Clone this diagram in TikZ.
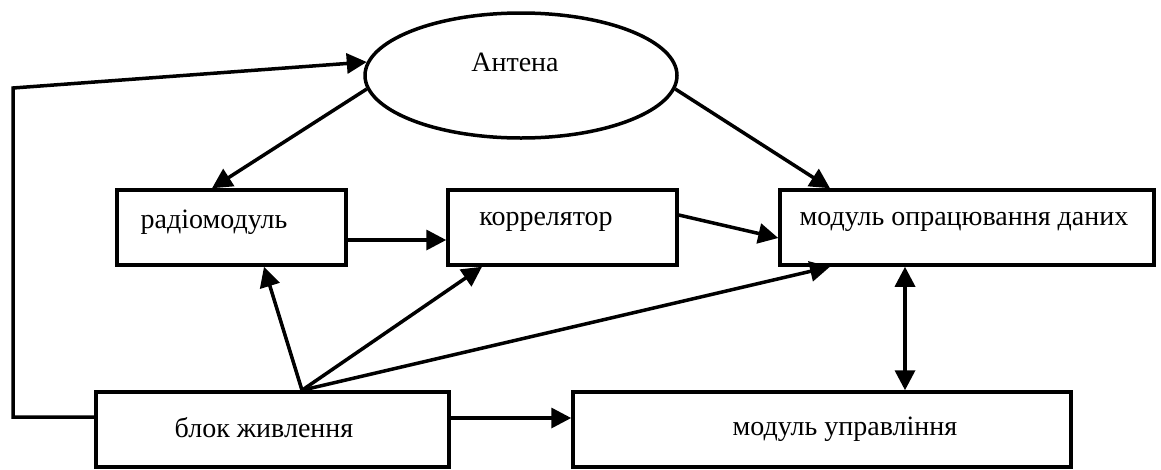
\documentclass[tikz,border=0pt]{standalone}
\usepackage{fontspec}
\setmainfont{Liberation Serif}
\usetikzlibrary{arrows.meta,shapes.geometric}
\begin{document}
\begin{tikzpicture}[x=1pt,y=-1pt,
  line width=3.5pt,
  box/.style={draw,rectangle,inner sep=0pt,minimum height=75pt},
  txt/.style={font=\fontsize{28}{32}\selectfont,inner sep=0pt},
  arr/.style={-{Triangle[length=20pt,width=20pt]}},
  darr/.style={{Triangle[length=20pt,width=20pt]}-{Triangle[length=20pt,width=20pt]}}]
\useasboundingbox (0,0) rectangle (1161,469);
\node[draw,ellipse,inner sep=0pt,minimum width=312pt,minimum height=125pt] (ant) at (521,75.5) {};
\node[txt] (antt) at (515,62) {Антена};
\node[box,minimum width=229pt,label={[txt,xshift=-17.5pt,yshift=5.5pt]center:радіомодуль}] (rad) at (231.5,227.5) {};
\node[box,minimum width=229pt,label={[txt,xshift=-16.5pt,yshift=5.5pt]center:коррелятор}] (kor) at (562.5,227.5) {};
\node[box,minimum width=374pt,label={[txt,xshift=-3pt,yshift=5.5pt]center:модуль опрацювання даних}] (mod) at (967,227.5) {};
\node[box,minimum width=353pt,label={[txt,xshift=-8.5pt,yshift=1.5pt]center:блок живлення}] (blk) at (272.5,429.5) {};
\node[box,minimum width=498pt,label={[txt,xshift=23pt,yshift=0pt]center:модуль управління}] (upr) at (822,429.5) {};
\coordinate (c0) at (13,417);
\coordinate (c1) at (13,88);
% loop from power block to antenna
\draw[arr,line join=miter] ([yshift=12.5pt]blk.west) -- (c0) -- (c1) -- (ant.175);
% antenna outputs
\draw[arr] (ant.185) -- ([xshift=-19.5pt]rad.north);
\draw[arr] (ant.355) -- ([xshift=-137pt]mod.north);
% chain
\draw[arr] ([yshift=-12.5pt]rad.east) -- ([yshift=-12.5pt]kor.west);
\draw[arr] ([yshift=12.5pt]kor.east) -- ([yshift=-10.5pt]mod.west);
% power fan
\draw[arr] ([xshift=29.5pt]blk.north) -- ([xshift=32.5pt]rad.south);
\draw[arr] ([xshift=29.5pt]blk.north) -- ([xshift=-80.5pt]kor.south);
\draw[arr] ([xshift=29.5pt]blk.north) -- ([xshift=-137pt]mod.south);
\draw[arr] ([yshift=11.5pt]blk.east) -- ([yshift=11.5pt]upr.west);
% bidirectional
\draw[darr] ([xshift=-62pt]mod.south) -- ([xshift=83pt]upr.north);
\end{tikzpicture}
\end{document}
